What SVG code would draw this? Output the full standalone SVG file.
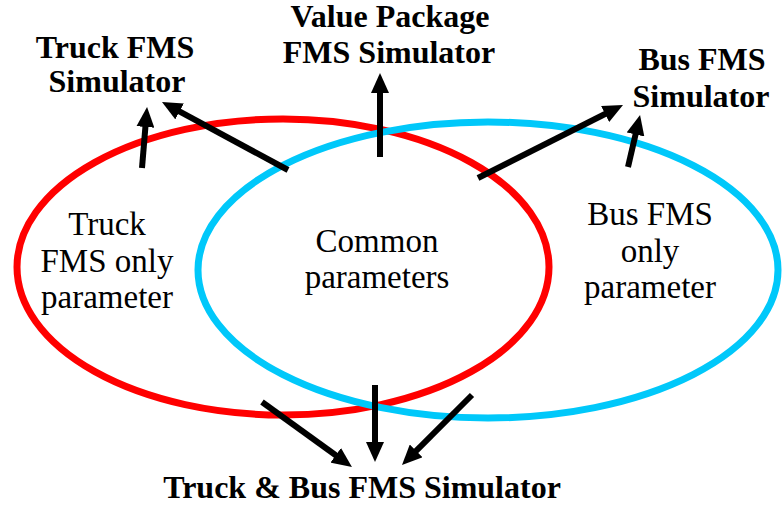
<svg xmlns="http://www.w3.org/2000/svg" width="784" height="505" viewBox="0 0 784 505">
  <style>
    .ring { fill: none; stroke-width: 7; }
    .title { font-family: 'Liberation Serif', 'DejaVu Serif', serif; font-weight: bold; font-size: 32px; fill: #000; text-anchor: middle; }
    .body { font-family: 'Liberation Serif', 'DejaVu Serif', serif; font-size: 33px; fill: #000; text-anchor: middle; }
    .arrow { stroke: #000; stroke-width: 6; fill: none; marker-end: url(#head); }
  </style>
  <defs>
    <marker id="head" markerUnits="userSpaceOnUse" markerWidth="20" markerHeight="18" refX="6" refY="9" orient="auto">
      <path d="M0,0 L20,9 L0,18 z" fill="#000"/>
    </marker>
  </defs>
  <rect width="784" height="505" fill="#fff"/>

  <!-- overlapping sets -->
  <g id="truck-set">
    <ellipse class="ring" cx="283" cy="267" rx="266" ry="148" stroke="#ff0000"/>
  </g>
  <g id="bus-set">
    <ellipse class="ring" cx="488" cy="270" rx="290" ry="148" stroke="#00c8fa"/>
  </g>

  <!-- region labels -->
  <g id="truck-only">
    <text class="body" x="107" y="235">Truck</text>
    <text class="body" x="107" y="272">FMS only</text>
    <text class="body" x="107" y="308">parameter</text>
  </g>
  <g id="common">
    <text class="body" x="377" y="252">Common</text>
    <text class="body" x="377" y="288">parameters</text>
  </g>
  <g id="bus-only">
    <text class="body" x="650" y="225">Bus FMS</text>
    <text class="body" x="650" y="262">only</text>
    <text class="body" x="650" y="298">parameter</text>
  </g>

  <!-- simulators -->
  <g id="truck-sim">
    <text class="title" x="115" y="58">Truck FMS</text>
    <text class="title" x="117" y="92">Simulator</text>
  </g>
  <g id="value-sim">
    <text class="title" x="390" y="27">Value Package</text>
    <text class="title" x="389" y="63">FMS Simulator</text>
  </g>
  <g id="bus-sim">
    <text class="title" x="702" y="70">Bus FMS</text>
    <text class="title" x="701" y="107">Simulator</text>
  </g>
  <g id="truck-bus-sim">
    <text class="title" x="362" y="498">Truck &amp; Bus FMS Simulator</text>
  </g>

  <!-- connectors -->
  <g id="connectors">
    <line class="arrow" x1="142" y1="168" x2="145.9" y2="121"/>
    <line class="arrow" x1="288" y1="170" x2="174.3" y2="108.6"/>
    <line class="arrow" x1="380" y1="157" x2="380" y2="87"/>
    <line class="arrow" x1="478" y1="178" x2="610.5" y2="111.3"/>
    <line class="arrow" x1="628" y1="167" x2="636.9" y2="128.6"/>
    <line class="arrow" x1="262" y1="402" x2="340.6" y2="458.8"/>
    <line class="arrow" x1="375" y1="385" x2="375" y2="448"/>
    <line class="arrow" x1="472" y1="395" x2="411.9" y2="455.1"/>
  </g>
</svg>
